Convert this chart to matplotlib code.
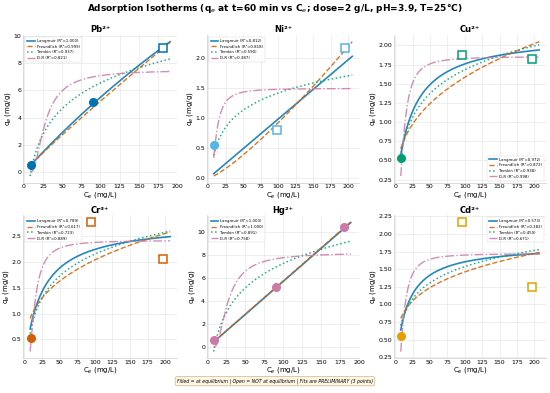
import numpy as np
import matplotlib
matplotlib.use("Agg")
import matplotlib.pyplot as plt

metals = ["Pb²⁺", "Ni²⁺", "Cu²⁺", "Cr³⁺", "Hg²⁺", "Cd²⁺"]
marker_colors = ["#0072B2", "#56B4E9", "#009E73", "#D55E00", "#CC79A7", "#E69F00"]

ce_data = [[9, 90, 182], [9, 98, 196], [9, 96, 197], [9, 95, 197], [9, 90, 180], [9, 96, 197]]
qe_data = [[0.55, 5.15, 9.1], [0.55, 0.80, 2.18], [0.53, 1.87, 1.82],
           [0.53, 2.78, 2.05], [0.60, 5.25, 10.45], [0.55, 2.17, 1.25]]
at_eq = [[True, True, False], [True, False, False], [True, False, False],
         [True, False, False], [True, True, True], [True, False, False]]

r2_langmuir = [1.000, 0.812, 0.972, 0.789, 1.000, 0.573]
r2_freundlich = [0.999, 0.818, 0.872, 0.617, 1.000, 0.382]
r2_temkin = [0.937, 0.590, 0.938, 0.723, 0.891, 0.459]
r2_dr = [0.821, 0.387, 0.998, 0.889, 0.758, 0.671]

lang_qm = [51.25, 990.0, 2.15, 2.78, 57200.0, 1.85]
lang_K = [0.0012, 1e-5, 0.045, 0.042, 1e-6, 0.065]
freu_KF = [0.0726, 0.003, 0.312, 0.459, 0.0575, 0.487]
freu_n_inv = [0.928, 1.245, 0.353, 0.324, 1.0, 0.2385]
temk_A = [0.112, 0.314, 0.425, 0.332, 0.1094, 1.03]
temk_B = [2.71, 0.4126, 0.449, 0.615, 3.037, 0.3315]
dr_qm = [7.5, 1.5, 1.855, 2.42, 8.2, 1.72]
dr_beta = [9.5e-5, 1.77e-5, 2.2e-5, 2.66e-5, 9e-5, 1.97e-5]

legend_locs = ["upper left", "upper left", "lower right", "upper left", "upper left", "upper right"]

RT = 8.314 * 298.15

# axes boxes in figure fraction
col_lr = [(0.042, 0.322), (0.376, 0.653), (0.716, 0.993)]
row_bt = [(0.535, 0.911), (0.089, 0.452)]

fig, axes = plt.subplots(2, 3, figsize=(5.5, 3.93), dpi=100)
fig.suptitle("Adsorption Isotherms (q$_e$ at t=60 min vs C$_e$; dose=2 g/L, pH=3.9, T=25°C)",
             fontsize=6.5, fontweight="bold", y=0.995)

for i, ax in enumerate(axes.flat):
    r, cidx = divmod(i, 3)
    l, rr = col_lr[cidx]
    b, t = row_bt[r]
    ax.set_position([l, b, rr - l, t - b])

    ce = np.array(ce_data[i], dtype=float)
    qe = np.array(qe_data[i], dtype=float)
    x = np.linspace(ce.min() * 0.9, ce.max() * 1.05, 300)
    q_l = lang_qm[i] * lang_K[i] * x / (1 + lang_K[i] * x)
    q_f = freu_KF[i] * x ** freu_n_inv[i]
    q_t = temk_B[i] * np.log(temk_A[i] * x)
    eps = RT * np.log(1 + 1 / x)
    q_d = dr_qm[i] * np.exp(-dr_beta[i] * eps ** 2)

    ax.plot(x, q_l, "-", color="#0072B2", lw=1.2, alpha=0.85,
            label=f"Langmuir (R²={r2_langmuir[i]:.3f})")
    ax.plot(x, q_f, "--", color="#D55E00", lw=1.0, alpha=0.85,
            label=f"Freundlich (R²={r2_freundlich[i]:.3f})")
    ax.plot(x, q_t, ":", color="#009E73", lw=1.1, alpha=0.85,
            label=f"Temkin (R²={r2_temkin[i]:.3f})")
    ax.plot(x, q_d, "-.", color="#CC79A7", lw=1.0, alpha=0.85,
            label=f"D-R (R²={r2_dr[i]:.3f})")

    c = marker_colors[i]
    for xv, yv, eq in zip(ce, qe, at_eq[i]):
        if eq:
            ax.plot(xv, yv, "o", ms=5.5, color=c, mec=c, zorder=5)
        else:
            ax.plot(xv, yv, "s", ms=6, mfc="white", mec=c, mew=1.1, zorder=5)

    ax.set_title(metals[i], fontsize=6, fontweight="bold", pad=2)
    ax.set_xlabel("C$_e$ (mg/L)", fontsize=5, labelpad=0.5)
    ax.set_ylabel("q$_e$ (mg/g)", fontsize=5, labelpad=0.5)
    ax.set_xticks(np.arange(0, 201, 25))
    ax.tick_params(labelsize=4.5, length=0, pad=1.2)
    ax.grid(True, color="#e8e8e8", lw=0.5)
    for s in ["top", "right"]:
        ax.spines[s].set_visible(False)
    for s in ["left", "bottom"]:
        ax.spines[s].set_color("#cccccc")
        ax.spines[s].set_linewidth(0.5)
    leg = ax.legend(loc=legend_locs[i], fontsize=2.8, frameon=True, handlelength=2.0,
                    borderpad=0.5, labelspacing=0.45, handletextpad=0.5)
    leg.get_frame().set_linewidth(0.3)

fig.text(0.5, 0.03,
         "Filled = at equilibrium | Open = NOT at equilibrium | Fits are PRELIMINARY (3 points)",
         ha="center", va="center", fontsize=3.3, style="italic",
         bbox=dict(boxstyle="round,pad=0.4", facecolor="#FDF6E3", edgecolor="#C8B88A", lw=0.5))

fig.savefig("out.png", dpi=100)
